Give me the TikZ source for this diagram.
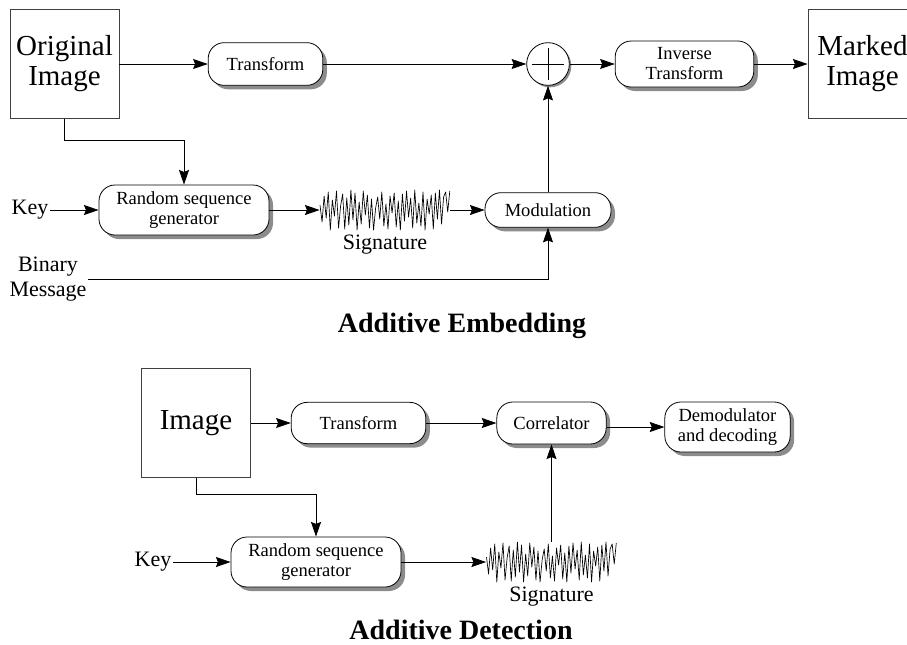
\documentclass[tikz,border=0pt]{standalone}
\usepackage{fontspec}
\setmainfont{Liberation Serif}
\usetikzlibrary{arrows.meta, shadows, positioning}

% noise trace drawn over an (invisible) node
\newcommand{\noisewave}[1]{%
  \draw[shift={(#1.center)}, line width=0.5pt, line join=round]
    (-65,5) \foreach \v [count=\i] in {-12,14,-8,18,-20,10,-6,19,-18,4,16,-19,12,-15,20,-10,17,-20,8,-14,19,-5,15,-18,11,-20,2,13,-9,18,-16,6,-19,14,-3,17,-17,9,-20,16,-11,19,-7,12,-18,20,-13,7,-16,18,-20,11,-4,15,-19,17,-9,20,-14,13,18,-2,19}
    { -- ({-65+2.06*\i},\v) };}

\begin{document}
\begin{tikzpicture}[
  x=0.75pt, y=0.75pt,
  line width=0.6pt,
  imgbox/.style={draw=black!75, fill=white, minimum width=81.75pt, minimum height=81.75pt,
                 inner sep=0pt, align=center, font=\fontsize{21.75}{22.5}\selectfont},
  proc/.style={draw, fill=white, rounded corners=12pt, inner sep=0pt, align=center,
               font=\fontsize{13.9}{15.5}\selectfont,
               drop shadow={shadow xshift=3pt, shadow yshift=-3pt, fill=black!45, opacity=1}},
  sum/.style={draw, circle, fill=white, minimum size=32pt, inner sep=0pt,
              drop shadow={shadow xshift=1.5pt, shadow yshift=-1.5pt, fill=black!45, opacity=1}},
  wave/.style={minimum width=97.5pt, minimum height=30pt, inner sep=0pt},
  lbl/.style={font=\fontsize{16.5}{18.75}\selectfont, inner sep=1pt, align=center},
  ttl/.style={font=\fontsize{21}{24}\selectfont\bfseries},
  arrow/.style={-{Stealth[length=11pt, width=7.5pt, inset=1.5pt]}}
]
\clip (0,0) rectangle (907,-644);

% embedding
\node[imgbox] (orig)   at (64.5,-64)  {Original\\Image};
\node[proc, minimum width=86pt, minimum height=32pt]      (tr1) at (265.5,-64) {Transform};
\node[sum]    (plus)   at (548,-64)   {};
\node[proc, minimum width=104pt, minimum height=34.5pt, font=\fontsize{13.9}{15}\selectfont]
              (inv)    at (684.5,-64) {Inverse\\Transform};
\node[imgbox] (marked) at (862.5,-64) {Marked\\Image};

\node[lbl]    (key1)   at (30,-210)   {Key};
\node[proc, minimum width=127.5pt, minimum height=37.5pt] (rsg1) at (184,-210) {Random sequence\\generator};
\node[wave]   (sig1)   at (385,-210)  {};
\node[lbl, below=2pt of sig1] (siglbl1) {Signature};
\node[proc, minimum width=94.5pt, minimum height=26pt]    (mod) at (548,-210) {Modulation};
\node[lbl]    (bin)    at (48,-279)   {Binary\\Message};
\node[ttl]    (emb)    at (462,-326)  {Additive Embedding};

\draw ([yshift=-4pt]plus.north) -- ([yshift=4pt]plus.south);
\draw ([xshift=4pt]plus.west) -- ([xshift=-4pt]plus.east);
\noisewave{sig1}

\draw[arrow] (orig) -- (tr1);
\draw[arrow] (tr1) -- (plus);
\draw[arrow] (plus) -- (inv);
\draw[arrow] (inv) -- (marked);
\draw[arrow] (orig.south) -- ++(0,-21) -| (rsg1.north);
\draw[arrow] (key1) -- (rsg1);
\draw[arrow] (rsg1) -- (sig1);
\draw[arrow] (sig1) -- (mod);
\draw[arrow] (bin.east) -| (mod.south);
\draw[arrow] (mod) -- (plus);

% detection
\node[imgbox] (img)    at (196,-423)  {Image};
\node[proc, minimum width=101pt, minimum height=31pt]     (tr2) at (358.5,-423) {Transform};
\node[proc, minimum width=82pt, minimum height=31.5pt]    (cor) at (551.5,-423) {Correlator};
\node[proc, minimum width=94pt, minimum height=37.5pt]    (dem) at (727.5,-427) {Demodulator\\and decoding};
\node[lbl]    (key2)   at (153,-562)  {Key};
\node[proc, minimum width=127.5pt, minimum height=37.5pt] (rsg2) at (316,-562) {Random sequence\\generator};
\node[wave]   (sig2)   at (551.5,-562) {};
\node[lbl, below=2pt of sig2] (siglbl2) {Signature};
\node[ttl]    (det)    at (461,-630)  {Additive Detection};

\noisewave{sig2}

\draw[arrow] (img) -- (tr2);
\draw[arrow] (tr2) -- (cor);
\draw[arrow] (cor.east |- dem.west) -- (dem.west);
\draw[arrow] (img.south) -- ++(0,-16) -| (rsg2.north);
\draw[arrow] (key2) -- (rsg2);
\draw[arrow] (rsg2) -- (sig2);
\draw[arrow] (sig2) -- (cor);
\end{tikzpicture}
\end{document}
